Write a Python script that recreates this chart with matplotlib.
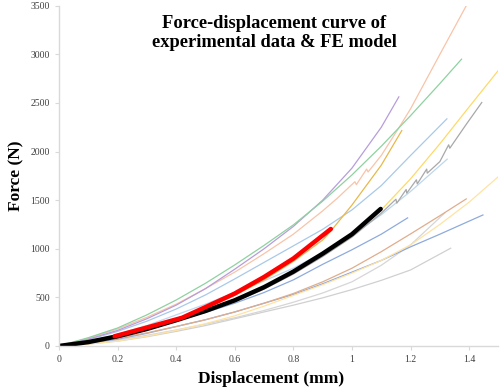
import matplotlib
matplotlib.use("Agg")
import matplotlib.pyplot as plt

green_d = [0, 0.1, 0.2, 0.3, 0.4, 0.5, 0.6, 0.7, 0.8, 0.9, 1.0, 1.1, 1.2, 1.3, 1.374]
green_f = [0, 85, 185, 320, 473, 645, 834, 1035, 1246, 1490, 1760, 2055, 2370, 2700, 2951]

purple_d = [0, 0.1, 0.2, 0.3, 0.4, 0.5, 0.6, 0.7, 0.8, 0.9, 1.0, 1.1, 1.16]
purple_f = [0, 70, 160, 280, 420, 590, 790, 1000, 1230, 1500, 1830, 2250, 2563]

salmon_d = [0, 0.1, 0.2, 0.3, 0.4, 0.5, 0.6, 0.7, 0.8, 0.9, 0.95, 1.01, 1.015, 1.05,
            1.055, 1.1, 1.16, 1.2, 1.25, 1.3, 1.39]
salmon_f = [0, 80, 175, 295, 430, 590, 760, 950, 1150, 1390, 1520, 1690, 1660, 1820,
            1790, 1960, 2244, 2440, 2720, 3000, 3500]

gold_d = [0, 0.1, 0.2, 0.3, 0.4, 0.5, 0.6, 0.7, 0.8, 0.9, 0.93, 1.0, 1.1, 1.17]
gold_f = [0, 50, 110, 190, 280, 390, 520, 680, 870, 1090, 1190, 1450, 1860, 2216]

ltblue1_d = [0, 0.1, 0.2, 0.3, 0.4, 0.5, 0.6, 0.7, 0.8, 0.9, 1.0, 1.1, 1.2, 1.324]
ltblue1_f = [0, 65, 150, 255, 380, 525, 690, 860, 1030, 1200, 1400, 1650, 1960, 2337]

yellow_d = [0, 0.1, 0.2, 0.3, 0.4, 0.5, 0.6, 0.7, 0.8, 0.9, 1.0, 1.1, 1.2, 1.3, 1.4, 1.515]
yellow_f = [0, 40, 100, 175, 265, 360, 470, 600, 760, 940, 1140, 1400, 1720, 2080, 2460, 2893]

gray_d = [0, 0.1, 0.2, 0.3, 0.4, 0.5, 0.6, 0.7, 0.8, 0.9, 1.0, 1.10, 1.15, 1.153,
          1.185, 1.187, 1.22, 1.223, 1.255, 1.257, 1.30, 1.33, 1.334, 1.39, 1.443]
gray_f = [0, 38, 95, 168, 255, 348, 455, 585, 740, 920, 1120, 1366, 1510, 1469,
          1610, 1572, 1710, 1668, 1820, 1778, 1897, 2070, 2035, 2280, 2505]

ltblue2_d = [0, 0.1, 0.2, 0.3, 0.4, 0.5, 0.6, 0.7, 0.8, 0.9, 1.0, 1.1, 1.2, 1.325]
ltblue2_f = [0, 50, 120, 210, 320, 430, 550, 670, 800, 960, 1140, 1350, 1590, 1922]

medblue_d = [0, 0.1, 0.2, 0.3, 0.4, 0.5, 0.6, 0.7, 0.8, 0.9, 1.0, 1.1, 1.19]
medblue_f = [0, 45, 105, 180, 260, 345, 440, 550, 680, 840, 990, 1150, 1318]

brown_d = [0, 0.1, 0.2, 0.3, 0.4, 0.5, 0.6, 0.7, 0.8, 0.9, 1.0, 1.1, 1.2, 1.3, 1.39]
brown_f = [0, 35, 80, 135, 200, 270, 350, 440, 540, 660, 800, 970, 1153, 1340, 1513]

ltorange_d = [0, 0.1, 0.2, 0.3, 0.4, 0.5, 0.6, 0.7, 0.8, 0.9, 1.0, 1.1, 1.2, 1.3, 1.4, 1.5]
ltorange_f = [0, 20, 50, 100, 160, 230, 310, 410, 520, 630, 750, 880, 1040, 1250, 1480, 1743]

blue_d = [0, 0.1, 0.2, 0.3, 0.4, 0.5, 0.6, 0.7, 0.8, 0.9, 1.0, 1.1, 1.2, 1.3, 1.447]
blue_f = [0, 30, 70, 130, 200, 270, 350, 440, 530, 640, 760, 880, 1020, 1150, 1348]

ltgray1_d = [0, 0.1, 0.2, 0.3, 0.4, 0.5, 0.6, 0.7, 0.8, 0.9, 1.0, 1.1, 1.2, 1.337]
ltgray1_f = [0, 20, 50, 95, 150, 210, 280, 350, 420, 495, 580, 675, 782, 1006]

ltgray2_d = [0, 0.1, 0.2, 0.3, 0.4, 0.5, 0.6, 0.7, 0.8, 0.9, 1.0, 1.1, 1.2, 1.317]
ltgray2_f = [0, 25, 60, 110, 165, 225, 290, 365, 450, 545, 660, 830, 1040, 1369]

# FE model curves
black_d = [0, 0.1, 0.2, 0.3, 0.4, 0.5, 0.6, 0.7, 0.8, 0.9, 1.0, 1.098]
black_f = [0, 40, 100, 175, 265, 360, 470, 605, 765, 950, 1150, 1410]

red_d = [0.19, 0.3, 0.42, 0.5, 0.6, 0.7, 0.8, 0.928]
red_f = [100, 190, 290, 400, 540, 710, 900, 1204]

curves = [
    (ltgray1_d, ltgray1_f, "#d0d0d0"),
    (ltgray2_d, ltgray2_f, "#d6d6d6"),
    (blue_d, blue_f, "#8faadc"),
    (ltorange_d, ltorange_f, "#ffe3a3"),
    (brown_d, brown_f, "#e0ad8c"),
    (medblue_d, medblue_f, "#8faadc"),
    (ltblue2_d, ltblue2_f, "#bdd7ee"),
    (gray_d, gray_f, "#a8a8a8"),
    (yellow_d, yellow_f, "#ffd966"),
    (ltblue1_d, ltblue1_f, "#a9c9e8"),
    (gold_d, gold_f, "#e8b84a"),
    (salmon_d, salmon_f, "#f8c4a8"),
    (purple_d, purple_f, "#b79ddb"),
    (green_d, green_f, "#8fd1a0"),
]

fig = plt.figure(figsize=(5.04, 3.87), dpi=100)
ax = fig.add_axes([0.117, 0.106, 0.872, 0.879])

for d, f, c in curves:
    ax.plot(d, f, color=c, lw=0.9)

ax.plot(black_d, black_f, color="black", lw=3.2, solid_capstyle="round")
ax.plot(red_d, red_f, color="#ff0000", lw=3.2, solid_capstyle="round")

ax.set_xlim(0, 1.5)
ax.set_ylim(0, 3500)
ax.set_xticks([0, 0.2, 0.4, 0.6, 0.8, 1, 1.2, 1.4])
ax.set_xticklabels(["0", "0.2", "0.4", "0.6", "0.8", "1", "1.2", "1.4"])
ax.set_yticks(range(0, 3501, 500))

for s in ["top", "right"]:
    ax.spines[s].set_visible(False)
for s in ["left", "bottom"]:
    ax.spines[s].set_color("#d9d9d9")
    ax.spines[s].set_linewidth(1.0)
ax.tick_params(axis="both", colors="#d9d9d9", labelcolor="#404040", labelsize=7,
               length=3, width=0.8)
for lbl in ax.get_xticklabels() + ax.get_yticklabels():
    lbl.set_family("Liberation Serif")

ax.set_xlabel("Displacement (mm)", family="Liberation Serif", weight="bold",
              fontsize=12.5)
ax.xaxis.set_label_coords(0.482, -0.075)
ax.set_ylabel("Force (N)", family="Liberation Serif", weight="bold",
              fontsize=12.5, labelpad=4)

fig.text(0.544, 0.915, "Force-displacement curve of\nexperimental data & FE model",
         ha="center", va="center", family="Liberation Serif", weight="bold",
         fontsize=13.3, linespacing=1.1)

fig.savefig("out.png", dpi=100)
